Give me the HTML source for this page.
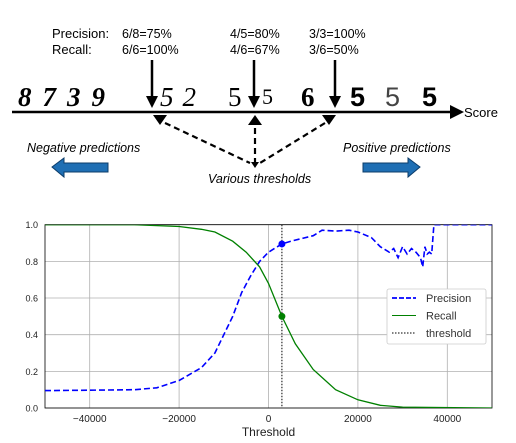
<!DOCTYPE html>
<html><head><meta charset="utf-8"><style>
html,body{margin:0;padding:0;background:#fff;width:516px;height:443px;overflow:hidden}
svg{display:block}
</style></head><body>
<svg id="s" width="516" height="443" xmlns="http://www.w3.org/2000/svg" font-family="Liberation Sans, DejaVu Sans, sans-serif">
<defs>
<marker id="ah" markerWidth="8" markerHeight="8" refX="4" refY="6" orient="auto" markerUnits="userSpaceOnUse"><path d="M0,0 L8,0 L4,8 z" fill="#000" transform="rotate(-90 4 4)"/></marker>
</defs>
<g>
  <text x="52" y="38" font-size="13">Precision:</text>
  <text x="52" y="54" font-size="13">Recall:</text>
  <g font-size="12.5">
    <text x="122" y="38">6/8=75%</text>
    <text x="122" y="54">6/6=100%</text>
    <text x="230" y="38">4/5=80%</text>
    <text x="230" y="54">4/6=67%</text>
    <text x="309" y="38">3/3=100%</text>
    <text x="309" y="54">3/6=50%</text>
  </g>
  <text x="18" y="106" font-size="27" font-weight="bold" font-style="italic" font-family="Liberation Serif, serif" letter-spacing="11">8739</text>
  <text x="160" y="106" font-size="27" font-style="italic" font-family="Liberation Serif, serif" letter-spacing="9">52</text>
  <text x="228" y="106" font-size="27" font-family="Liberation Serif, serif">5</text>
  <text x="262" y="104" font-size="22" font-family="Liberation Serif, serif">5</text>
  <text x="301" y="106" font-size="27" font-weight="bold" font-family="Liberation Serif, serif">6</text>
  <text x="350" y="106" font-size="27" font-weight="bold" font-family="Liberation Sans, sans-serif">5</text>
  <text x="385" y="106" font-size="27" font-family="Liberation Sans, sans-serif" fill="#444">5</text>
  <text x="422" y="106" font-size="27" font-weight="bold" font-family="Liberation Sans, sans-serif">5</text>
  <line x1="12" y1="112" x2="452" y2="112" stroke="#000" stroke-width="2.5"/>
  <path d="M450,105 L464,112 L450,119 z" fill="#000"/>
  <text x="464" y="117" font-size="13">Score</text>
  <g stroke="#000" stroke-width="2.5">
    <line x1="152" y1="60" x2="152" y2="98"/><line x1="254" y1="60" x2="254" y2="98"/><line x1="335" y1="60" x2="335" y2="98"/>
  </g>
  <g fill="#000">
    <path d="M146,96 L158,96 L152,108 z"/><path d="M248,96 L260,96 L254,108 z"/><path d="M329,96 L341,96 L335,108 z"/>
    <path d="M153,115 L167,115 L160,125 z"/>
    <path d="M248,125 L262,125 L255,115 z"/>
    <path d="M322,115 L336,115 L329,125 z"/>
  </g>
  <g stroke="#000" stroke-width="2.2" stroke-dasharray="6,4" fill="none">
    <line x1="165" y1="123" x2="250" y2="163"/><line x1="255" y1="128" x2="255" y2="163"/><line x1="325" y1="123" x2="260" y2="163"/>
  </g>
  <path d="M251,162 L259,162 L255,168 z" fill="#000"/>
  <text x="27" y="152" font-size="12.5" font-style="italic">Negative predictions</text>
  <text x="343" y="152" font-size="12.5" font-style="italic">Positive predictions</text>
  <text x="208" y="183" font-size="12.5" font-style="italic">Various thresholds</text>
  <path d="M52,167 L64,158 L64,163 L108,163 L108,172 L64,172 L64,177 z" fill="#1f6fb4" stroke="#0c3c6a" stroke-width="1"/>
  <path d="M420,167 L408,158 L408,163 L363,163 L363,172 L408,172 L408,177 z" fill="#1f6fb4" stroke="#0c3c6a" stroke-width="1"/>
</g>
<g id="chart"></g>
</svg>
<script>
const precX=[-50,-40,-30,-25,-20,-15,-12,-10,-8,-6,-4,-2,0,3,5,10,12,15,18,20,23,25,27,28,29,30,31,32,33,34,34.5,35,35.5,36,36.5,37,50];
const precY=[0.095,0.097,0.1,0.11,0.15,0.22,0.3,0.4,0.5,0.63,0.72,0.8,0.85,0.895,0.91,0.94,0.97,0.965,0.97,0.96,0.93,0.88,0.85,0.87,0.82,0.88,0.84,0.87,0.85,0.82,0.77,0.88,0.84,0.85,0.84,1.0,1.0];
const recX=[-50,-30,-20,-15,-12,-8,-5,-2,0,3,6,10,15,20,25,30,50];
const recY=[1.0,1.0,0.99,0.975,0.96,0.91,0.85,0.77,0.68,0.5,0.35,0.21,0.1,0.045,0.015,0.005,0.0];
const xTicks=[-40000,-20000,0,20000,40000];
const yTicks=[0,0.2,0.4,0.6,0.8,1.0];
const thresholdValue=3000;
const thrPrecision=0.895, thrRecall=0.5;

const NS="http://www.w3.org/2000/svg";
const L=45,R=492,T=224.7,B=408;
const xs=v=>L+(v+50000)/100000*(R-L);
const ys=v=>B-v*(B-T);
const g=document.getElementById('chart');
function mk(tag,attrs,parent){const e=document.createElementNS(NS,tag);for(const k in attrs)e.setAttribute(k,attrs[k]);(parent||g).appendChild(e);return e;}
const clip=mk('clipPath',{id:'pc'});mk('rect',{x:L,y:T,width:R-L,height:B-T},clip);
xTicks.forEach(t=>{
  const l=mk('line',{x1:xs(t),x2:xs(t),y1:T,y2:B,stroke:'#b0b0b0','stroke-width':0.8});
  
  
  const tx=mk('text',{x:xs(t),y:B+14,'font-size':10,'text-anchor':'middle',fill:'#222'});
  tx.textContent=t<0?'\u2212'+(-t):String(t);
  
  
});
yTicks.forEach(t=>{
  const l=mk('line',{x1:L,x2:R,y1:ys(t),y2:ys(t),stroke:'#b0b0b0','stroke-width':0.8});
  
  
  const tx=mk('text',{x:L-7,y:ys(t)+3.5,'font-size':9,'text-anchor':'end',fill:'#222'});
  tx.textContent=t.toFixed(1);
  
  
});
const fr=mk('rect',{x:L,y:T,width:R-L,height:B-T,fill:'none',stroke:'#000','stroke-width':0.8});


const pts=(X,Y)=>X.map((x,i)=>xs(x*1000).toFixed(1)+','+ys(Y[i]).toFixed(1)).join(' ');
const pl=mk('polyline',{points:pts(precX,precY),fill:'none',stroke:'#0000ff','stroke-width':1.6,'stroke-dasharray':'6,3','clip-path':'url(#pc)'});


const rl=mk('polyline',{points:pts(recX,recY),fill:'none',stroke:'#008000','stroke-width':1.3,'clip-path':'url(#pc)'});


const th=mk('line',{x1:xs(thresholdValue),x2:xs(thresholdValue),y1:T,y2:B,stroke:'#000','stroke-width':1,'stroke-dasharray':'1.5,1.5'});


const p1=mk('circle',{cx:xs(thresholdValue),cy:ys(thrPrecision),r:3.5,fill:'#0000ff'});


const p2=mk('circle',{cx:xs(thresholdValue),cy:ys(thrRecall),r:3.5,fill:'#008000'});


const xl=mk('text',{x:(L+R)/2,y:436,'font-size':12,'text-anchor':'middle',fill:'#222'});
xl.textContent='Threshold';


const lg=mk('g',{});


mk('rect',{x:387,y:289,width:99,height:55,fill:'#fff',stroke:'#ccc','stroke-width':0.8,rx:2},lg);
const items=[['Precision','#0000ff','5,2',1.8],['Recall','#008000','',1],['threshold','#000','1.5,1.5',1]];
items.forEach((it,i)=>{
  const y=298+i*17.5;
  const ln=mk('line',{x1:392,x2:416,y1:y,y2:y,stroke:it[1],'stroke-width':it[3]},lg);
  if(it[2])ln.setAttribute('stroke-dasharray',it[2]);
  const t=mk('text',{x:426,y:y+4,'font-size':11,fill:'#333'},lg);
  t.textContent=it[0];
  
  
});
</script>
</body></html>
